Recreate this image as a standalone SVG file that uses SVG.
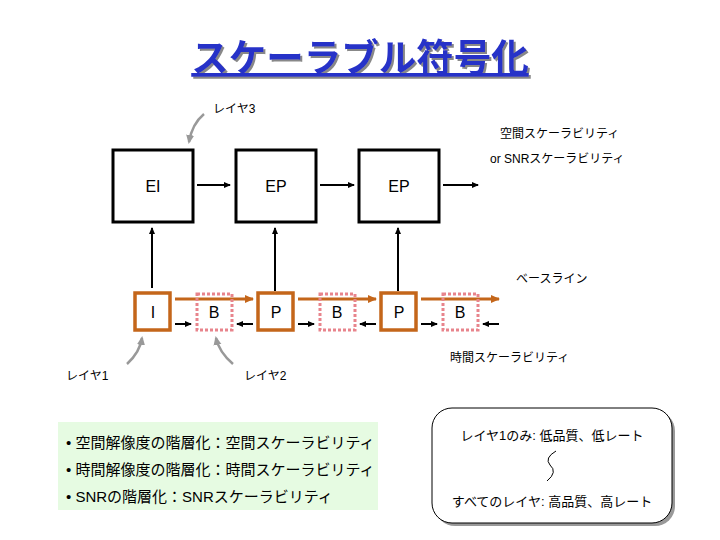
<svg xmlns="http://www.w3.org/2000/svg" width="720" height="540" viewBox="0 0 720 540">
<style>
text{font-family:"Liberation Sans","Noto Sans CJK JP",sans-serif;fill:#000}
.t{font-size:12px}
.q{font-size:13px;text-anchor:middle}
.lbl{font-size:16px;text-anchor:middle}
.big{stroke:#000;stroke-width:3;fill:#fff}
.or{stroke:#c4661a;stroke-width:3.5;fill:#fff}
.pk{stroke:#e8848c;stroke-width:3;fill:none;stroke-dasharray:3 2}
.ln{stroke:#000;stroke-width:2;fill:none}
.oa{stroke:#c4661a;stroke-width:3;fill:none}
.ga{stroke:#999;stroke-width:2.5;fill:none}
.b{font-size:15px}
</style>
<defs>
<marker id="ab" markerWidth="8" markerHeight="8" refX="6" refY="4" orient="auto" markerUnits="userSpaceOnUse"><path d="M0,1 L7,4 L0,7 Z" fill="#000"/></marker>
<marker id="ao" markerWidth="10" markerHeight="10" refX="8" refY="5" orient="auto" markerUnits="userSpaceOnUse"><path d="M0,1 L9,5 L0,9 Z" fill="#c4661a"/></marker>
<marker id="ag" markerWidth="10" markerHeight="10" refX="7" refY="5" orient="auto" markerUnits="userSpaceOnUse"><path d="M0,1 L9,5 L0,9 Z" fill="#999"/></marker>
<filter id="sh" x="-5%" y="-5%" width="110%" height="120%"><feDropShadow dx="2" dy="2" stdDeviation="0.5" flood-color="#888"/></filter>
</defs>

<g id="title">
<text x="360" y="71" text-anchor="middle" style="font-size:37.5px;font-weight:bold;fill:#2630c8;text-decoration:underline" filter="url(#sh)">スケーラブル符号化</text>
</g>

<g id="connectors">
<line class="ln" x1="197" y1="185" x2="230" y2="185" marker-end="url(#ab)"/>
<line class="ln" x1="320" y1="185" x2="354" y2="185" marker-end="url(#ab)"/>
<line class="ln" x1="443" y1="185" x2="478" y2="185" marker-end="url(#ab)"/>
<line class="ln" x1="152" y1="288" x2="152" y2="228" marker-end="url(#ab)"/>
<line class="ln" x1="275" y1="291" x2="275" y2="228" marker-end="url(#ab)"/>
<line class="ln" x1="398" y1="291" x2="398" y2="228" marker-end="url(#ab)"/>
<line class="oa" x1="175" y1="299" x2="253" y2="299" marker-end="url(#ao)"/>
<line class="oa" x1="298" y1="299" x2="376" y2="299" marker-end="url(#ao)"/>
<line class="oa" x1="421" y1="299" x2="499" y2="299" marker-end="url(#ao)"/>
<line class="ln" x1="175" y1="324" x2="191" y2="324" marker-end="url(#ab)"/>
<line class="ln" x1="253" y1="324" x2="237" y2="324" marker-end="url(#ab)"/>
<line class="ln" x1="298" y1="324" x2="314" y2="324" marker-end="url(#ab)"/>
<line class="ln" x1="376" y1="324" x2="360" y2="324" marker-end="url(#ab)"/>
<line class="ln" x1="421" y1="324" x2="437" y2="324" marker-end="url(#ab)"/>
<line class="ln" x1="499" y1="324" x2="483" y2="324" marker-end="url(#ab)"/>
<path class="ga" d="M204,114 Q192,124 189,142" marker-end="url(#ag)"/>
<path class="ga" d="M127,364 Q140,352 142,338" marker-end="url(#ag)"/>
<path class="ga" d="M233,364 Q219,352 216,338" marker-end="url(#ag)"/>
</g>

<g id="EI"><rect class="big" x="113" y="150" width="80" height="72"/><text class="lbl" x="153" y="192">EI</text></g>
<g id="EP1"><rect class="big" x="236" y="150" width="80" height="72"/><text class="lbl" x="276" y="192">EP</text></g>
<g id="EP2"><rect class="big" x="359" y="150" width="80" height="72"/><text class="lbl" x="399" y="192">EP</text></g>

<g id="I"><rect class="or" x="135" y="293" width="35" height="37"/><text class="lbl" x="153" y="318">I</text></g>
<g id="B1"><rect class="pk" x="197" y="294" width="35" height="36"/><text class="lbl" x="214" y="318">B</text></g>
<g id="P1"><rect class="or" x="258" y="293" width="35" height="37"/><text class="lbl" x="276" y="318">P</text></g>
<g id="B2"><rect class="pk" x="320" y="294" width="35" height="36"/><text class="lbl" x="337" y="318">B</text></g>
<g id="P2"><rect class="or" x="381" y="293" width="35" height="37"/><text class="lbl" x="399" y="318">P</text></g>
<g id="B3"><rect class="pk" x="443" y="294" width="35" height="36"/><text class="lbl" x="460" y="318">B</text></g>

<g id="labels">
<text class="t" x="213" y="113">レイヤ3</text>
<text class="t" x="500" y="138">空間スケーラビリティ</text>
<text class="t" x="490" y="163">or SNRスケーラビリティ</text>
<text class="t" x="516" y="283">ベースライン</text>
<text class="t" x="450" y="362">時間スケーラビリティ</text>
<text class="t" x="66" y="380">レイヤ1</text>
<text class="t" x="244" y="380">レイヤ2</text>
</g>

<g id="summary">
<rect x="58" y="422" width="320" height="88" fill="#e6fbe2"/>
<text class="b" x="66" y="448">• 空間解像度の階層化：空間スケーラビリティ</text>
<text class="b" x="66" y="475">• 時間解像度の階層化：時間スケーラビリティ</text>
<text class="b" x="66" y="502">• SNRの階層化：SNRスケーラビリティ</text>
</g>

<g id="quality">
<rect x="435" y="411" width="240" height="115" rx="20" fill="#999"/>
<rect x="432" y="408" width="240" height="115" rx="20" fill="#fff" stroke="#000" stroke-width="1"/>
<text class="q" x="552" y="440">レイヤ1のみ:  低品質、低レート</text>
<path d="M556,451 Q544,458 550,465 Q558,472 547,481" fill="none" stroke="#000" stroke-width="1"/>
<text class="q" x="552" y="506">すべてのレイヤ:  高品質、高レート</text>
</g>
</svg>
